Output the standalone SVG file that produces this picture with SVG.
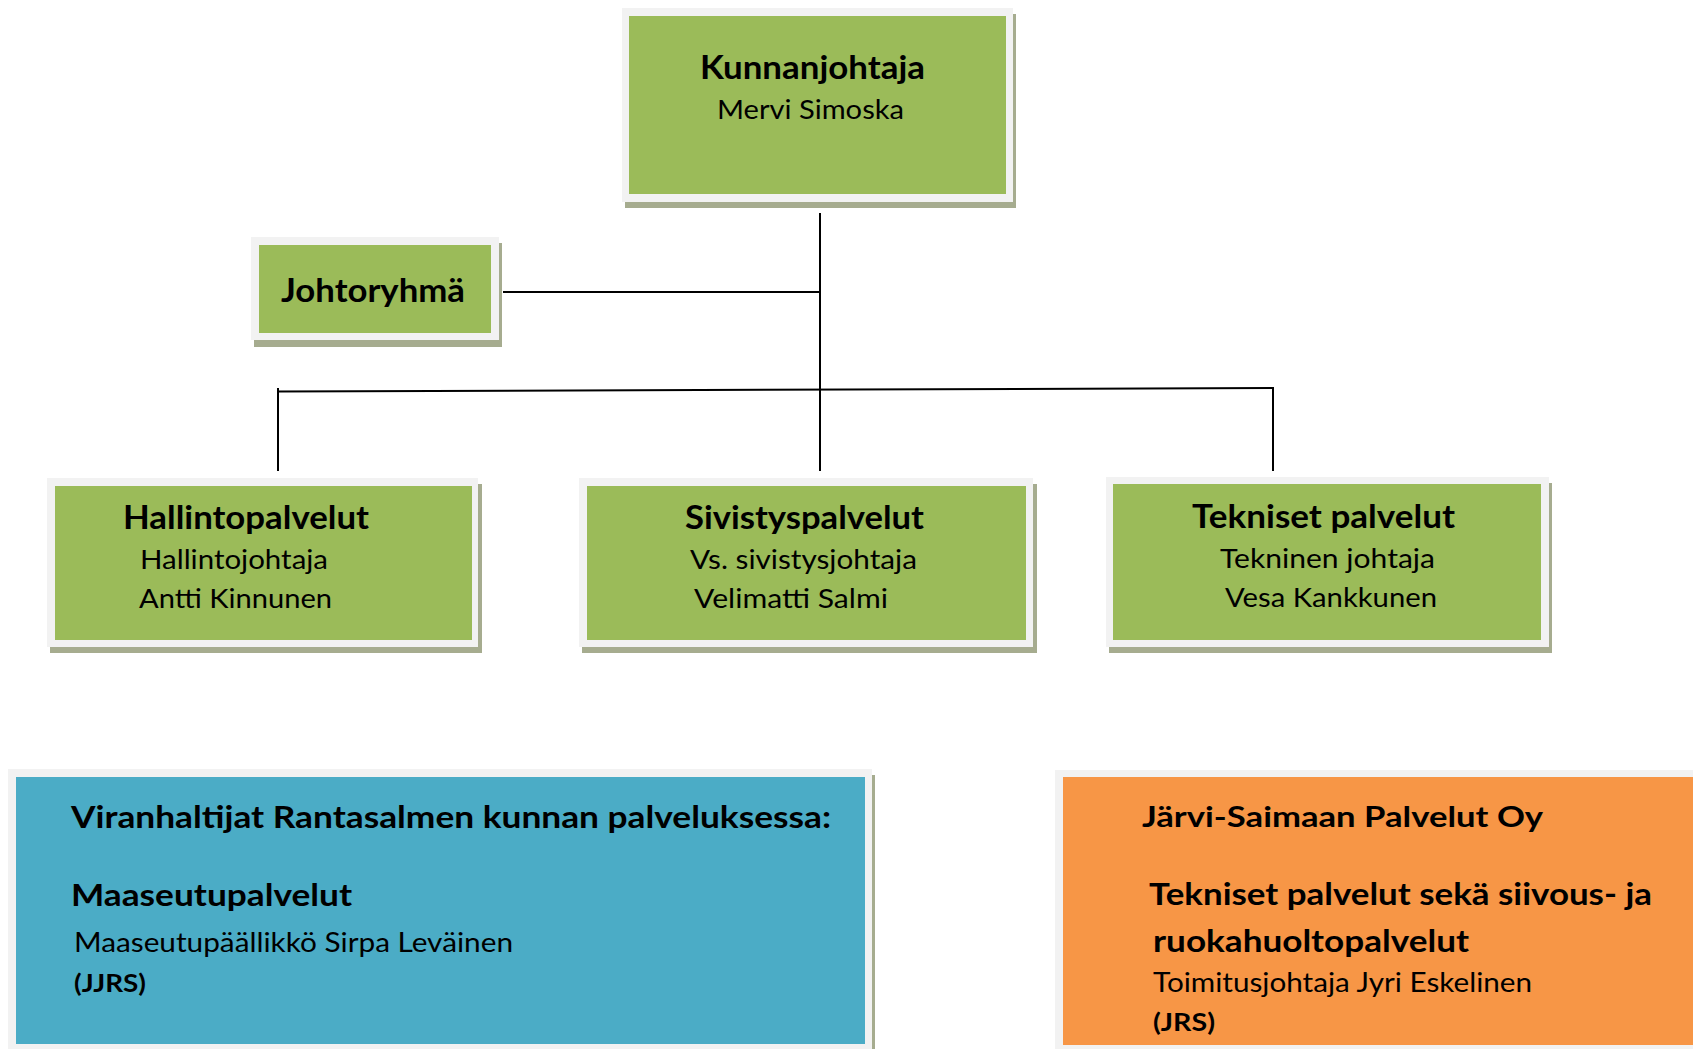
<svg xmlns="http://www.w3.org/2000/svg" width="1693" height="1049" viewBox="0 0 1693 1049">
<style>
.t{font-family:Lato,"Liberation Sans",sans-serif;fill:#000}
.b{font-weight:bold}
.frame{fill:#f2f2f2}
.shadow{fill:#a6ac8f}
.green{fill:#9bbb59}
.blue{fill:#4bacc6}
.orange{fill:#f79646}
.ln{stroke:#000;stroke-width:2;fill:none}
</style>
<rect width="1693" height="1049" fill="#fff"/>
<g id="connectors">
<line class="ln" x1="820" y1="213" x2="820" y2="471"/>
<line class="ln" x1="503" y1="292" x2="820" y2="292"/>
<line class="ln" x1="278" y1="391.5" x2="1274" y2="388"/>
<line class="ln" x1="278" y1="388" x2="278" y2="471"/>
<line class="ln" x1="1273" y1="388" x2="1273" y2="471"/>
</g>
<g id="kunnanjohtaja">
<rect class="shadow" x="625" y="14" width="391" height="194"/>
<rect class="frame" x="622" y="8" width="391" height="194"/>
<rect class="green" x="629" y="16" width="377" height="178"/>
<text class="t b" x="700" y="79" font-size="33" textLength="225" lengthAdjust="spacingAndGlyphs">Kunnanjohtaja</text>
<text class="t" x="717" y="119" font-size="27.5" textLength="187" lengthAdjust="spacingAndGlyphs">Mervi Simoska</text>
</g>
<g id="johtoryhma">
<rect class="shadow" x="254" y="243" width="248" height="104"/>
<rect class="frame" x="251" y="237" width="248" height="103"/>
<rect class="green" x="259" y="245" width="232" height="88"/>
<text class="t b" x="281" y="302" font-size="32" textLength="184" lengthAdjust="spacingAndGlyphs">Johtoryhmä</text>
</g>
<g id="hallintopalvelut">
<rect class="shadow" x="50" y="484" width="432" height="169"/>
<rect class="frame" x="47" y="478" width="431" height="169"/>
<rect class="green" x="55" y="486" width="417" height="154"/>
<text class="t b" x="123" y="529" font-size="32" textLength="246" lengthAdjust="spacingAndGlyphs">Hallintopalvelut</text>
<text class="t" x="140" y="569" font-size="27.5" textLength="188" lengthAdjust="spacingAndGlyphs">Hallintojohtaja</text>
<text class="t" x="139" y="608" font-size="27.5" textLength="193" lengthAdjust="spacingAndGlyphs">Antti Kinnunen</text>
</g>
<g id="sivistyspalvelut">
<rect class="shadow" x="582" y="484" width="455" height="169"/>
<rect class="frame" x="579" y="478" width="454" height="169"/>
<rect class="green" x="587" y="486" width="439" height="154"/>
<text class="t b" x="685" y="529" font-size="32" textLength="239" lengthAdjust="spacingAndGlyphs">Sivistyspalvelut</text>
<text class="t" x="690" y="569" font-size="27.5" textLength="227" lengthAdjust="spacingAndGlyphs">Vs. sivistysjohtaja</text>
<text class="t" x="694" y="608" font-size="27.5" textLength="194" lengthAdjust="spacingAndGlyphs">Velimatti Salmi</text>
</g>
<g id="tekniset">
<rect class="shadow" x="1109" y="483" width="443" height="170"/>
<rect class="frame" x="1106" y="477" width="443" height="170"/>
<rect class="green" x="1113" y="484" width="428" height="156"/>
<text class="t b" x="1192" y="528" font-size="32" textLength="263" lengthAdjust="spacingAndGlyphs">Tekniset palvelut</text>
<text class="t" x="1220" y="568" font-size="27.5" textLength="215" lengthAdjust="spacingAndGlyphs">Tekninen johtaja</text>
<text class="t" x="1225" y="607" font-size="27.5" textLength="212" lengthAdjust="spacingAndGlyphs">Vesa Kankkunen</text>
</g>
<g id="viranhaltijat">
<rect class="shadow" x="11" y="775" width="864" height="280"/>
<rect class="frame" x="8" y="769" width="864" height="290"/>
<rect class="blue" x="16" y="777" width="849" height="267"/>
<text class="t b" x="71" y="828" font-size="31" textLength="760" lengthAdjust="spacingAndGlyphs">Viranhaltijat Rantasalmen kunnan palveluksessa:</text>
<text class="t b" x="71" y="906" font-size="30" textLength="281" lengthAdjust="spacingAndGlyphs">Maaseutupalvelut</text>
<text class="t" x="74" y="952" font-size="26" textLength="439" lengthAdjust="spacingAndGlyphs">Maaseutupäällikkö Sirpa Leväinen</text>
<text class="t b" x="74" y="992" font-size="25.5" textLength="72" lengthAdjust="spacingAndGlyphs">(JJRS)</text>
</g>
<g id="jarvi-saimaa">
<rect class="frame" x="1055" y="770" width="650" height="290"/>
<rect class="orange" x="1063" y="777" width="640" height="268"/>
<text class="t b" x="1142" y="827" font-size="28" textLength="401" lengthAdjust="spacingAndGlyphs">Järvi-Saimaan Palvelut Oy</text>
<text class="t b" x="1149" y="905" font-size="30" textLength="503" lengthAdjust="spacingAndGlyphs">Tekniset palvelut sekä siivous- ja</text>
<text class="t b" x="1153" y="952" font-size="30" textLength="316" lengthAdjust="spacingAndGlyphs">ruokahuoltopalvelut</text>
<text class="t" x="1153" y="992" font-size="26" textLength="379" lengthAdjust="spacingAndGlyphs">Toimitusjohtaja Jyri Eskelinen</text>
<text class="t b" x="1153" y="1031" font-size="25.5" textLength="62" lengthAdjust="spacingAndGlyphs">(JRS)</text>
</g>
</svg>
